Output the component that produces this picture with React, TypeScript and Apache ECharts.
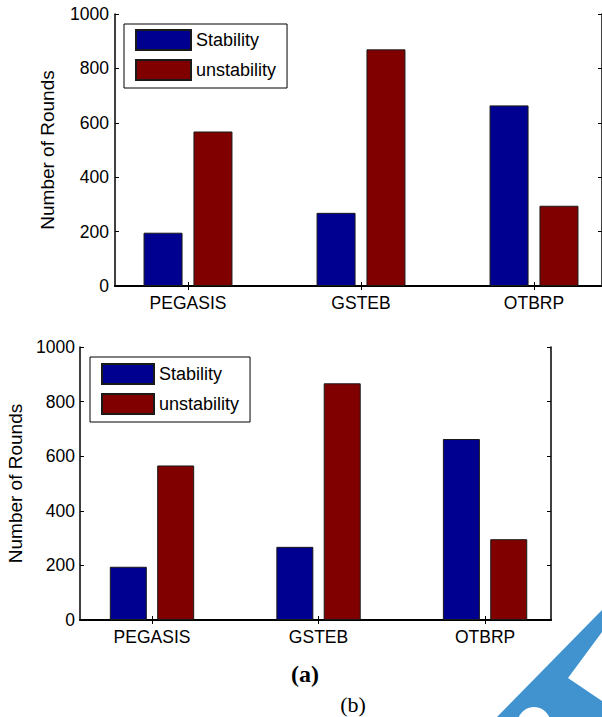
import React, { useEffect, useRef } from 'react';
import * as echarts from 'echarts';

const categories = ['PEGASIS', 'GSTEB', 'OTBRP'];
const categoryPositions = [1, 2, 3];
const seriesNames = ['Stability', 'unstability'];
const stabilityTop = [196, 269, 664];
const unstabilityTop = [568, 870, 295];
const stabilityBottom = [195, 268, 663];
const unstabilityBottom = [566, 867, 296];
const yAxisName = 'Number of Rounds';
const panelLabels = ['(a)', '(b)'];

const FONT = '"Liberation Sans", Arial, sans-serif';
const SERIF = '"Liberation Serif", "Times New Roman", serif';
const BLUE = '#000090';
const RED = '#800000';
const FS = 17.5;

function buildAxes(gi: number, xmin: number, xmax: number, nameGap: number, labelMargin: number) {
  const line = { show: true, lineStyle: { color: '#000', width: 1.5 } };
  const tick = { show: true, inside: true, length: 4, lineStyle: { color: '#000', width: 1 } };
  const xBottom = {
    type: 'value', gridIndex: gi, min: xmin, max: xmax, position: 'bottom',
    axisLine: { show: true, lineStyle: { color: '#000', width: 2 } },
    axisTick: { ...tick, customValues: categoryPositions },
    axisLabel: {
      show: true, customValues: categoryPositions, color: '#000', fontSize: FS, fontFamily: FONT, margin: 8,
      formatter: (v: number) => categories[categoryPositions.indexOf(Math.round(v))] ?? '',
    },
    splitLine: { show: false },
  };
  const xTop = {
    type: 'value', gridIndex: gi, min: xmin, max: xmax, position: 'top',
    axisLine: line,
    axisTick: { ...tick, customValues: categoryPositions },
    axisLabel: { show: false, customValues: categoryPositions },
    splitLine: { show: false },
  };
  const yLeft = {
    type: 'value', gridIndex: gi, min: 0, max: 1000, interval: 200, position: 'left',
    axisLine: line, axisTick: tick,
    axisLabel: { color: '#000', fontSize: FS, fontFamily: FONT, margin: labelMargin, formatter: (v: number) => String(v) },
    name: yAxisName, nameLocation: 'middle', nameRotate: 90, nameGap,
    nameTextStyle: { color: '#000', fontSize: 19, fontFamily: FONT },
    splitLine: { show: false },
  };
  const yRight = {
    type: 'value', gridIndex: gi, min: 0, max: 1000, interval: 200, position: 'right',
    axisLine: line, axisTick: tick, axisLabel: { show: false }, splitLine: { show: false },
  };
  return { x: [xBottom, xTop], y: [yLeft, yRight] };
}

function barSeries(name: string, color: string, values: number[], axisIndex: number, barWidth: number, barGap: string) {
  return {
    type: 'bar', name, xAxisIndex: axisIndex, yAxisIndex: axisIndex,
    data: categoryPositions.map((p, i) => [p, values[i]]),
    barWidth, barGap,
    itemStyle: { color, borderColor: '#1a1a1a', borderWidth: 1 },
  };
}

function legend(left: number, top: number, itemWidth: number, padTop: number) {
  return {
    show: true, orient: 'vertical', left, top, data: seriesNames, icon: 'rect',
    itemWidth, itemHeight: 20, itemGap: 8, padding: [padTop, 11, 7, 11],
    borderColor: '#000', borderWidth: 1, backgroundColor: '#fff', selectedMode: false,
    textStyle: { color: '#000', fontSize: 18, fontFamily: FONT },
  };
}

export default function App() {
  const ref = useRef<HTMLDivElement>(null);
  useEffect(() => {
    if (!ref.current) return;
    const chart = echarts.init(ref.current, undefined, { renderer: 'svg' });
    const a0 = buildAxes(0, 0.578, 3.393, 58, 6);
    const a1 = buildAxes(1, 0.5676, 3.396, 54, 5);
    const option: any = {
      animation: false,
      backgroundColor: '#fff',
      grid: [
        { left: 115, top: 14, width: 487, height: 272, containLabel: false, outerBoundsMode: 'none' },
        { left: 80, top: 347, width: 471, height: 273, containLabel: false, outerBoundsMode: 'none' },
      ],
      xAxis: [...a0.x, ...a1.x],
      yAxis: [...a0.y, ...a1.y],
      legend: [legend(124, 24, 55, 5), legend(90, 357, 52, 6)],
      series: [
        barSeries(seriesNames[0], BLUE, stabilityTop, 0, 39, '28%'),
        barSeries(seriesNames[1], RED, unstabilityTop, 0, 39, '28%'),
        barSeries(seriesNames[0], BLUE, stabilityBottom, 2, 37, '28%'),
        barSeries(seriesNames[1], RED, unstabilityBottom, 2, 37, '28%'),
      ],
      graphic: [
        {
          type: 'text', x: 305, y: 674,
          style: { text: panelLabels[0], fontSize: 24, fontWeight: 'bold', fontFamily: SERIF, fill: '#000', align: 'center', verticalAlign: 'middle' },
        },
        {
          type: 'text', x: 353, y: 704,
          style: { text: panelLabels[1], fontSize: 22, fontFamily: SERIF, fill: '#000', align: 'center', verticalAlign: 'middle' },
        },
        {
          type: 'polygon',
          shape: { points: [[497, 717], [602, 610], [602, 632], [568, 678], [602, 701], [602, 717]] },
          style: { fill: '#4193d0' },
        },
        {
          type: 'ellipse',
          shape: { cx: 534, cy: 725, rx: 17, ry: 18 },
          style: { fill: '#fff' },
        },
      ],
    };
    chart.setOption(option);
    return () => chart.dispose();
  }, []);
  return (
    <div
      ref={ref}
      style={{ position: 'absolute', left: 0, top: 0, width: 602, height: 717, background: '#fff' }}
    />
  );
}
